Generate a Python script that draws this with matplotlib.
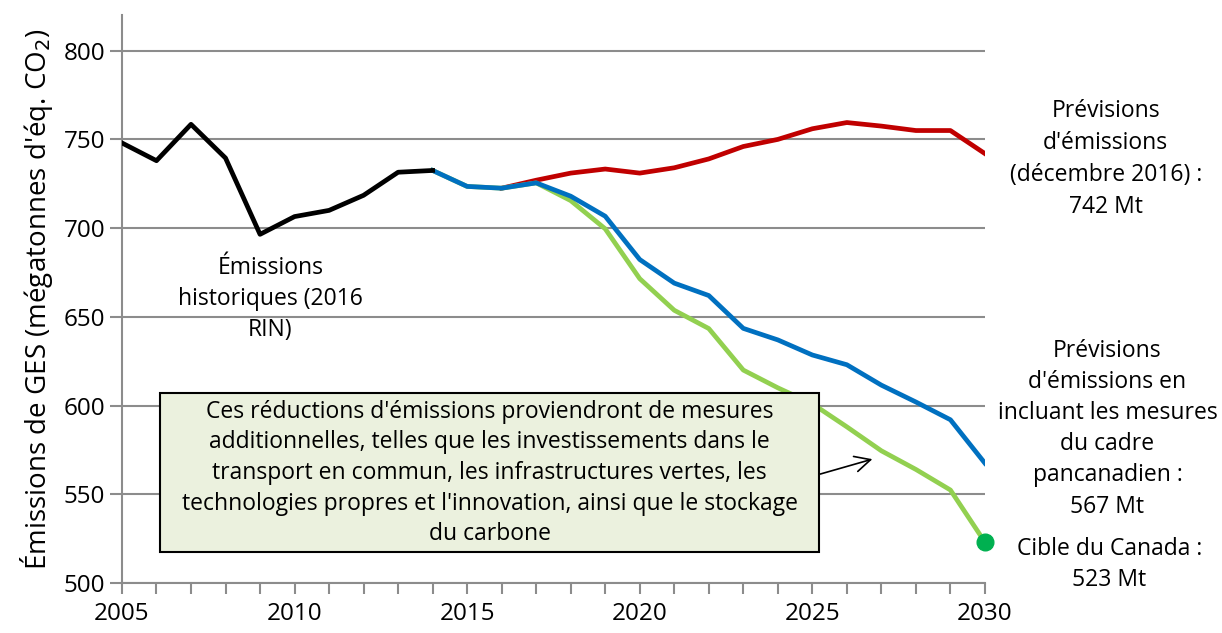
import numpy as np
import matplotlib
matplotlib.use("Agg")
import matplotlib.pyplot as plt
from matplotlib.patches import Rectangle

plt.rcParams['font.family'] = ['Open Sans', 'DejaVu Sans']

# historical emissions (2016 RIN)
hist_years = list(range(2005, 2015))
hist_vals = [748, 738, 758.5, 739.5, 696.5, 706.5, 710, 718.5, 731.5, 732.5]

# projections, december 2016
ref_years = list(range(2016, 2031))
ref_vals = [722.5, 727, 731, 733.3, 731, 734, 739, 746, 750, 756, 759.5, 757.5, 755, 755, 742]

# projections with pan-canadian framework measures
pcf_years = list(range(2014, 2031))
pcf_vals = [732.5, 723.5, 722.5, 725.5, 718, 706.7, 682.3, 669, 662, 643.5, 637, 628.5,
            623, 611.5, 602, 592, 567.5]

# additional measures path to target
add_years = list(range(2014, 2031))
add_vals = [732.5, 723.5, 722.5, 725.5, 715.5, 699.6, 671.5, 653.7, 643.4, 620, 610,
            601, 588, 574.5, 564, 552.4, 523]

target_year = 2030
target_val = 523

grid_col = '#8c8c8c'
fs = 16.5
ls = 1.4

fig = plt.figure(figsize=(12.22, 6.33), dpi=100)
ax = fig.add_axes([0.0998, 0.079, 0.7062, 0.897])

ax.plot(ref_years, ref_vals, color='#C00000', lw=3.4, zorder=3)
ax.plot(add_years, add_vals, color='#92D050', lw=3.4, zorder=4)
ax.plot(pcf_years, pcf_vals, color='#0070C0', lw=3.4, zorder=5)
ax.plot(hist_years, hist_vals, color='black', lw=3.4, zorder=6)
ax.plot([target_year], [target_val], 'o', color='#00B050', ms=12, zorder=7, clip_on=False)

ax.set_xlim(2005, 2030)
ax.set_ylim(500, 820)
ax.set_yticks(np.arange(500, 801, 50))
ax.set_xticks(np.arange(2005, 2031, 5))
ax.set_xticks(np.arange(2005, 2031, 1), minor=True)
ax.yaxis.grid(True, color=grid_col, lw=1.5)
ax.set_axisbelow(True)
for s in ['top', 'right']:
    ax.spines[s].set_visible(False)
for s in ['left', 'bottom']:
    ax.spines[s].set_color(grid_col)
    ax.spines[s].set_linewidth(1.5)
ax.tick_params(axis='both', which='both', color=grid_col, width=1.5, labelsize=17.5)
ax.tick_params(axis='y', length=9, pad=3)
ax.tick_params(axis='x', which='major', length=8, pad=6)
ax.tick_params(axis='x', which='minor', length=8)

ax.set_ylabel("Émissions de GES (mégatonnes d'éq. CO$_2$)", fontsize=20, labelpad=6)

ax.text(2009.3, 660, "Émissions\nhistoriques (2016\nRIN)", fontsize=fs,
        ha='center', va='center', linespacing=ls)

ax.text(2033.5, 739, "Prévisions\nd'émissions\n(décembre 2016) :\n742 Mt", fontsize=fs,
        ha='center', va='center', linespacing=ls + 0.05, clip_on=False)
ax.text(2033.55, 587, "Prévisions\nd'émissions en\nincluant les mesures\ndu cadre\n"
        "pancanadien :\n567 Mt", fontsize=fs, ha='center', va='center',
        linespacing=ls, clip_on=False)
ax.text(2033.6, 510.5, "Cible du Canada :\n523 Mt", fontsize=fs, ha='center',
        va='center', linespacing=ls, clip_on=False)

ax.annotate("", xy=(2026.74, 569.8), xytext=(2025.23, 561.4),
            arrowprops=dict(arrowstyle='->', color='black', lw=1.2,
                            mutation_scale=28, shrinkA=0, shrinkB=0), zorder=8)

# annotation box
ax.add_patch(Rectangle((2006.1, 517.5), 19.1, 89.5, fc='#EBF1DE', ec='black',
                       lw=1.5, zorder=9))
box_text = ("Ces réductions d'émissions proviendront de mesures\n"
            "additionnelles, telles que les investissements dans le\n"
            "transport en commun, les infrastructures vertes, les\n"
            "technologies propres et l'innovation, ainsi que le stockage\n"
            "du carbone")
ax.text(2015.65, 562, box_text, fontsize=fs, ha='center', va='center',
        linespacing=ls - 0.03, zorder=10)

fig.savefig('out.png', dpi=100)
